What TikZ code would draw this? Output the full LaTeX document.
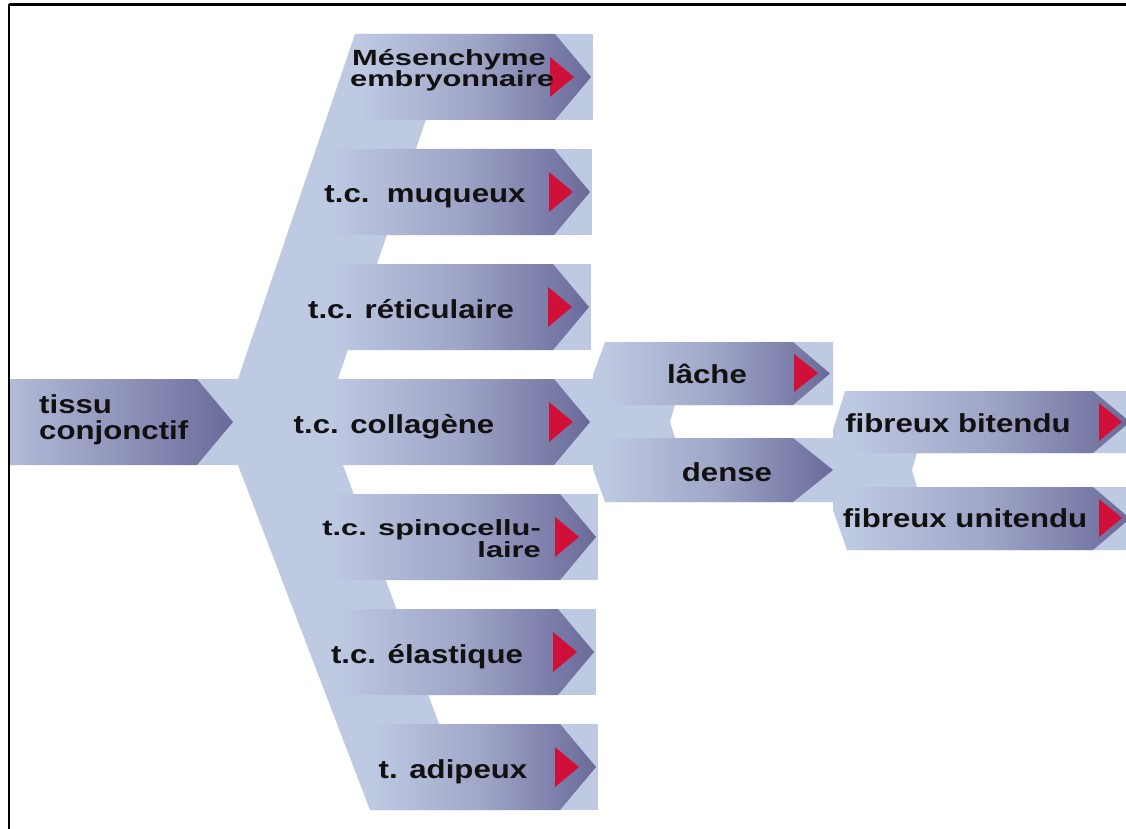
\documentclass[tikz,border=0pt]{standalone}
\usepackage{fontspec}
\newfontfamily\labfont{Liberation Sans}[FakeStretch=1.2]
\newfontfamily\twofont{Liberation Sans}[FakeStretch=1.4]
\definecolor{bgc}{RGB}{190,201,226}
\definecolor{dkc}{RGB}{106,106,154}
\definecolor{redc}{RGB}{208,16,56}
\definecolor{txtc}{RGB}{17,17,17}
\tikzset{
  band/.style={fill=bgc, draw=none},
  grad/.style={left color=bgc, right color=dkc, middle color=bgc!62!dkc, draw=none},
  tri/.style={fill=redc, draw=none},
  lbl/.style={font=\labfont\bfseries\fontsize{26}{20}\selectfont, text=txtc, inner sep=0pt},
  lbltwo/.style={font=\twofont\bfseries\fontsize{22}{19}\selectfont, text=txtc, inner sep=0pt},
  frameline/.style={draw=black, line width=2.6pt}
}
\begin{document}
\begin{tikzpicture}[x=1pt, y=-1pt]
\useasboundingbox (0,0) rectangle (1126,829);
\clip (0,0) rectangle (1126,829);
\fill[white] (0,0) rectangle (1126,829);
% frame (top and left only visible)
\draw[frameline] (9,4.5) -- (1130,4.5);
\draw[frameline] (9,4.5) -- (9,835);
% background tree
\fill[band] (10,379) rectangle (240,465);
\fill[band] (355,34) -- (455,34) -- (338,379) -- (238,379) -- cycle;
\fill[band] (238,465) -- (343,465) -- (471,810) -- (370,810) -- cycle;
\foreach \rx/\gx/\ty/\R/\RR in {360/360/34/593/593, 320/330/149/592/592, 280/330/264/591/591, 240/330/379/592/600, 285/330/494/598/598, 330/335/609/596/596, 372/372/724/598/598}{
  \fill[band] (\rx,\ty) rectangle (\RR,{\ty+86});
}
% sub tree
\fill[band] (605,342) -- (833,342) -- (833,405) -- (675,405) -- (670,422) -- (675,438)
  -- (838,438) -- (838,502) -- (605,502) -- (593,469) -- (593,375) -- cycle;
\fill[band] (845,391) -- (1140,391) -- (1140,453) -- (917,453) -- (912,470) -- (917,487)
  -- (1140,487) -- (1140,550) -- (847,550) -- (833,510) -- (833,430) -- cycle;
% gradient arrows
\path[grad, left color=bgc!85!dkc, middle color=bgc!45!dkc] (10,379) -- (197,379) -- (233,422) -- (197,465) -- (10,465) -- cycle;
\foreach \gx/\ty/\R in {360/34/593, 330/149/592, 330/264/591, 330/379/592, 330/494/598, 335/609/596, 372/724/598}{
  \path[grad] (\gx,\ty) -- ({\R-38},\ty) -- ({\R-2},{\ty+43}) -- ({\R-38},{\ty+86}) -- (\gx,{\ty+86}) -- cycle;
  \fill[tri] ({\R-43},{\ty+23}) -- ({\R-43},{\ty+63}) -- ({\R-19},{\ty+43}) -- cycle;
}
\path[grad] (605,342) -- (793,342) -- (830,373.5) -- (793,405) -- (605,405) -- cycle;
\fill[tri] (794,354) -- (794,392) -- (818,373) -- cycle;
\path[grad] (605,438) -- (793,438) -- (833,470) -- (793,502) -- (605,502) -- cycle;
\path[grad] (850,391) -- (1093,391) -- (1130,422) -- (1093,453) -- (850,453) -- cycle;
\fill[tri] (1099,403) -- (1099,441) -- (1122,422) -- cycle;
\path[grad] (850,487) -- (1093,487) -- (1130,518.5) -- (1093,550) -- (850,550) -- cycle;
\fill[tri] (1099,499) -- (1099,537) -- (1122,518) -- cycle;
% labels
\node[lbl, anchor=base west] (tis1) at (39,413) {tissu};
\node[lbl, anchor=base west] (tis2) at (39,439) {conjonctif};
\node[lbltwo, anchor=base west] (mes1) at (352,66) {Mésenchyme};
\node[lbltwo, anchor=base west] (mes2) at (350,87) {embryonnaire};
\node[lbl, anchor=base] (muq) at (425,203) {t.c.~~muqueux};
\node[lbl, anchor=base] (ret) at (411,318) {t.c. réticulaire};
\node[lbl, anchor=base] (col) at (394,433) {t.c. collagène};
\node[lbltwo, anchor=base east] (spi1) at (541,535) {t.c. spinocellu-};
\node[lbltwo, anchor=base east] (spi2) at (541,557) {laire};
\node[lbl, anchor=base] (ela) at (427,663) {t.c. élastique};
\node[lbl, anchor=base] (adi) at (453,778) {t. adipeux};
\node[lbl, anchor=base] (lac) at (707,383) {lâche};
\node[lbl, anchor=base] (den) at (727,481) {dense};
\node[lbl, anchor=base] (fbi) at (958,432) {fibreux bitendu};
\node[lbl, anchor=base] (fun) at (965,527) {fibreux unitendu};
\end{tikzpicture}
\end{document}
